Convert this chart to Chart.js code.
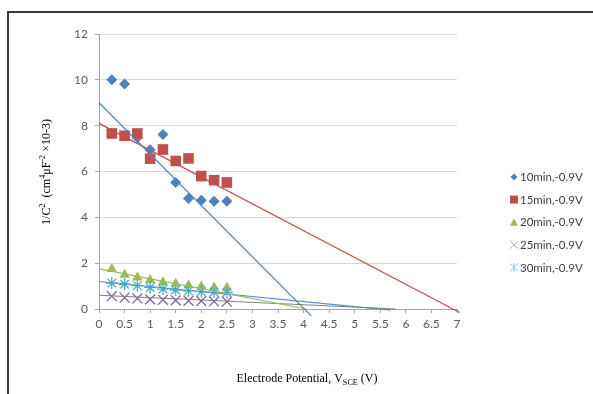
<!DOCTYPE html>
<html>
<head>
<meta charset="utf-8">
<script src="https://cdn.jsdelivr.net/npm/chart.js@4.4.1/dist/chart.umd.min.js"></script>
<style>
  html, body { margin: 0; padding: 0; background: #fff; }
  #wrap { width: 593px; height: 394px; position: relative; }
</style>
</head>
<body>
<div id="wrap"><canvas id="chart" width="593" height="394"></canvas></div>
<script>
// potential (V) for every measured point
const potentials = [0.25, 0.5, 0.75, 1, 1.25, 1.5, 1.75, 2, 2.25, 2.5];

// 1/C^2 values
const min10 = [10.0, 9.82, 7.47, 6.95, 7.62, 5.52, 4.82, 4.75, 4.7, 4.7];
const min15 = [7.66, 7.56, 7.66, 6.56, 6.96, 6.46, 6.57, 5.8, 5.62, 5.52];
const min20 = [1.75, 1.5, 1.38, 1.27, 1.17, 1.1, 1.04, 0.98, 0.94, 0.93];
const min25 = [0.56, 0.5, 0.46, 0.42, 0.4, 0.38, 0.36, 0.35, 0.33, 0.32];
const min30 = [1.13, 1.08, 1.02, 0.94, 0.87, 0.83, 0.79, 0.76, 0.74, 0.72];

const seriesNames = ['10min,-0.9V', '15min,-0.9V', '20min,-0.9V', '25min,-0.9V', '30min,-0.9V'];
const seriesColors = ['#4f81bd', '#c0504d', '#9bbb59', '#8064a2', '#4bacc6'];
const trendColors = ['#4f81bd', '#c0504d', '#9bbb59', '#7f7f7f', '#5a8fcf'];

// linear trendlines: value at 0 V, and where each one stops
const trendStartY = [9.0, 8.1, 1.75, 0.6, 1.2];
const trendEndX = [4.15, 7.05, 4.05, 5.8, 5.7];
const trendEndY = [-0.3, -0.15, 0, 0, -0.05];

const xTicks = [0, 0.5, 1, 1.5, 2, 2.5, 3, 3.5, 4, 4.5, 5, 5.5, 6, 6.5, 7];
const yTicks = [0, 2, 4, 6, 8, 10, 12];

const allSeries = [min10, min15, min20, min25, min30];
const toPoints = (vals) => vals.map((v, i) => ({ x: potentials[i], y: v }));

const trendSets = trendStartY.map((y0, i) => ({
  label: 'trend' + i,
  data: [{ x: 0, y: y0 }, { x: trendEndX[i], y: trendEndY[i] }],
  showLine: true,
  borderColor: trendColors[i],
  borderWidth: 1.2,
  pointRadius: 0,
  clip: false,
}));

const markerStyle = [
  { pointStyle: 'rectRot', pointRadius: 5.5, borderWidth: 0 },
  { pointStyle: 'rect', pointRadius: 7.5, borderWidth: 0 },
  { pointStyle: 'triangle', pointRadius: 6, borderWidth: 0 },
  { pointStyle: 'crossRot', pointRadius: 7, borderWidth: 1.3 },
  { pointStyle: 'star', pointRadius: 6, borderWidth: 1.3 },
];

const markerSets = allSeries.map((vals, i) => ({
  label: seriesNames[i],
  data: toPoints(vals),
  showLine: false,
  backgroundColor: seriesColors[i],
  borderColor: seriesColors[i],
  ...markerStyle[i],
})).reverse();

function drawLegendMarker(ctx, i, x, y) {
  ctx.save();
  ctx.fillStyle = seriesColors[i];
  ctx.strokeStyle = seriesColors[i];
  ctx.lineWidth = 1;
  ctx.beginPath();
  if (i === 0) {
    ctx.moveTo(x, y - 3.5); ctx.lineTo(x + 3.5, y); ctx.lineTo(x, y + 3.5); ctx.lineTo(x - 3.5, y);
    ctx.closePath(); ctx.fill();
  } else if (i === 1) {
    ctx.rect(x - 4, y - 4, 8, 8); ctx.fill();
  } else if (i === 2) {
    ctx.moveTo(x, y - 4); ctx.lineTo(x + 4, y + 3.5); ctx.lineTo(x - 4, y + 3.5);
    ctx.closePath(); ctx.fill();
  } else if (i === 3) {
    ctx.strokeStyle = '#b3a2c7';
    ctx.moveTo(x - 4, y - 4); ctx.lineTo(x + 4, y + 4);
    ctx.moveTo(x + 4, y - 4); ctx.lineTo(x - 4, y + 4); ctx.stroke();
  } else {
    ctx.strokeStyle = '#7fc6da';
    ctx.moveTo(x - 4, y - 4); ctx.lineTo(x + 4, y + 4);
    ctx.moveTo(x + 4, y - 4); ctx.lineTo(x - 4, y + 4);
    ctx.moveTo(x, y - 4.5); ctx.lineTo(x, y + 4.5); ctx.stroke();
  }
  ctx.restore();
}

// draws rich text (runs with sup/sub) starting at x, baseline y
function drawRuns(ctx, runs, x, y, size) {
  let cx = x;
  runs.forEach((r) => {
    const s = r.mode ? size * 0.68 : size;
    ctx.font = s + 'px "Liberation Serif", "Times New Roman", serif';
    const dy = r.mode === 'sup' ? -size * 0.38 : r.mode === 'sub' ? size * 0.22 : 0;
    ctx.fillText(r.t, cx, y + dy);
    cx += ctx.measureText(r.t).width;
  });
  return cx - x;
}
function runsWidth(ctx, runs, size) {
  let w = 0;
  runs.forEach((r) => {
    const s = r.mode ? size * 0.68 : size;
    ctx.font = s + 'px "Liberation Serif", "Times New Roman", serif';
    w += ctx.measureText(r.t).width;
  });
  return w;
}

const yTitle = [
  { t: '1/C' }, { t: '2', mode: 'sup' }, { t: '  (cm' }, { t: '4', mode: 'sup' },
  { t: 'μF' }, { t: '-2', mode: 'sup' }, { t: ' ×10-3)' },
];
const xTitle = [{ t: 'Electrode Potential, V' }, { t: 'SCE', mode: 'sub' }, { t: ' (V)' }];

const decorations = {
  id: 'decorations',
  afterDraw(chart) {
    const ctx = chart.ctx;
    ctx.save();
    // frame edges
    ctx.fillStyle = '#3a3a3a';
    ctx.fillRect(7, 11, 586, 2);
    ctx.fillRect(7, 11, 2, 383);

    // axis titles
    ctx.fillStyle = '#000';
    ctx.textBaseline = 'alphabetic';
    const xw = runsWidth(ctx, xTitle, 12);
    drawRuns(ctx, xTitle, 307 - xw / 2, 382, 12);

    ctx.save();
    ctx.translate(50, 172);
    ctx.rotate(-Math.PI / 2);
    const yw = runsWidth(ctx, yTitle, 12);
    drawRuns(ctx, yTitle, -yw / 2, 0, 12);
    ctx.restore();

    // legend
    ctx.font = '11.5px Lato, "Open Sans", sans-serif';
    ctx.fillStyle = '#404040';
    ctx.textBaseline = 'middle';
    seriesNames.forEach((name, i) => {
      const y = 177 + i * 22.6;
      drawLegendMarker(ctx, i, 514, y);
      ctx.fillText(name, 520, y + 0.5);
    });
    ctx.restore();
  },
};

new Chart(document.getElementById('chart'), {
  type: 'scatter',
  data: { datasets: [...trendSets, ...markerSets] },
  options: {
    responsive: false,
    animation: false,
    devicePixelRatio: 1,
    layout: { padding: { left: 0, top: 34, right: 136, bottom: 0 } },
    plugins: { legend: { display: false }, tooltip: { enabled: false } },
    scales: {
      x: {
        type: 'linear',
        min: 0,
        max: 7,
        afterBuildTicks: (s) => { s.ticks = xTicks.map((v) => ({ value: v })); },
        afterFit: (s) => { s.height = 85; },
        grid: { drawOnChartArea: false, drawTicks: true, tickLength: 4, color: '#a6a6a6' },
        border: { color: '#a6a6a6' },
        ticks: { color: '#595959', font: { family: 'Lato', size: 12 }, padding: 4, maxRotation: 0,
          callback: (v) => String(v) },
      },
      y: {
        type: 'linear',
        min: 0,
        max: 12,
        afterBuildTicks: (s) => { s.ticks = yTicks.map((v) => ({ value: v })); },
        afterFit: (s) => { s.width = 99; },
        grid: { color: '#d9d9d9', tickLength: 4, tickColor: '#a6a6a6' },
        border: { color: '#a6a6a6' },
        ticks: { color: '#595959', font: { family: 'Lato', size: 12 }, padding: 7 },
      },
    },
  },
  plugins: [decorations],
});
</script>
</body>
</html>
